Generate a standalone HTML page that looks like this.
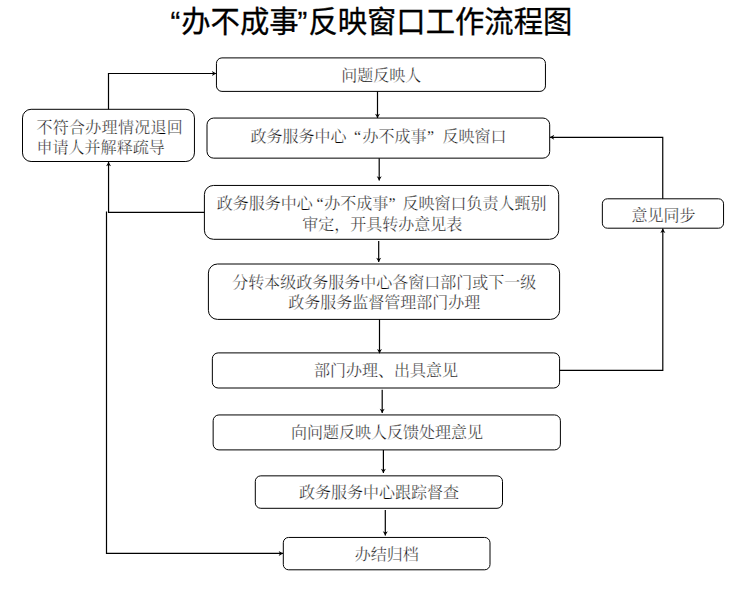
<!DOCTYPE html>
<html><head><meta charset="utf-8"><title>flow</title>
<style>
html,body{margin:0;padding:0;background:#fff;font-family:"Liberation Sans",sans-serif;}
svg{display:block}
</style></head><body>
<svg width="740" height="593" viewBox="0 0 740 593">
<rect x="0" y="0" width="740" height="593" fill="#fff"/>
<g fill="none" stroke="#000" stroke-width="1.0">
<rect x="216.45" y="57.90" width="329.00" height="33.50" rx="5.50" ry="5.50"/>
<rect x="207.00" y="118.05" width="342.70" height="40.10" rx="6.70" ry="6.70"/>
<rect x="204.40" y="185.45" width="354.30" height="53.85" rx="9.10" ry="9.10"/>
<rect x="208.40" y="264.00" width="351.20" height="55.40" rx="9.10" ry="9.10"/>
<rect x="212.35" y="352.90" width="347.25" height="35.10" rx="5.80" ry="5.80"/>
<rect x="213.15" y="414.95" width="347.25" height="34.95" rx="5.80" ry="5.80"/>
<rect x="255.30" y="475.85" width="247.20" height="32.45" rx="5.50" ry="5.50"/>
<rect x="283.30" y="537.45" width="206.70" height="32.35" rx="5.30" ry="5.30"/>
<rect x="22.50" y="109.30" width="171.95" height="52.20" rx="8.60" ry="8.60"/>
<rect x="602.35" y="198.80" width="121.20" height="29.40" rx="5.00" ry="5.00"/>
</g>
<g fill="none" stroke="#000" stroke-width="1.2">
<polyline points="108.50,109.30 108.50,73.50 216.20,73.50"/>
<polyline points="377.50,91.40 377.50,118.00"/>
<polyline points="379.20,158.30 379.20,180.50"/>
<polyline points="378.70,241.10 378.70,262.00"/>
<polyline points="379.50,319.40 379.50,353.30"/>
<polyline points="382.20,389.80 382.20,413.00"/>
<polyline points="383.40,450.00 383.40,473.00"/>
<polyline points="385.30,510.10 385.30,535.50"/>
<polyline points="204.40,212.45 108.55,212.45 108.55,162.00"/>
<polyline points="106.50,211.50 106.50,553.40 283.00,553.40"/>
<polyline points="559.60,370.45 662.80,370.45 662.80,228.60"/>
<polyline points="662.75,198.80 662.75,137.35 549.90,137.35"/>
</g>
<g fill="#000" stroke="none">
<polygon points="216.20,73.50 211.90,76.00 213.10,73.50 211.90,71.00"/>
<polygon points="377.50,118.00 375.00,113.70 377.50,114.90 380.00,113.70"/>
<polygon points="379.20,180.50 376.70,176.20 379.20,177.40 381.70,176.20"/>
<polygon points="378.70,262.00 376.20,257.70 378.70,258.90 381.20,257.70"/>
<polygon points="379.50,353.30 377.00,349.00 379.50,350.20 382.00,349.00"/>
<polygon points="382.20,413.00 379.70,408.70 382.20,409.90 384.70,408.70"/>
<polygon points="383.40,473.00 380.90,468.70 383.40,469.90 385.90,468.70"/>
<polygon points="385.30,535.50 382.80,531.20 385.30,532.40 387.80,531.20"/>
<polygon points="108.55,162.00 111.05,166.30 108.55,165.10 106.05,166.30"/>
<polygon points="283.00,553.40 278.70,555.90 279.90,553.40 278.70,550.90"/>
<polygon points="662.80,228.60 665.30,232.90 662.80,231.70 660.30,232.90"/>
<polygon points="549.90,137.35 554.20,134.85 553.00,137.35 554.20,139.85"/>
</g>
<g fill="#000" stroke="#fff" stroke-width="0.25" font-size="16" font-family="&quot;Liberation Serif&quot;, &quot;Noto Serif CJK SC&quot;, serif">
<text x="341.18" y="80.61">问题反映人</text>
<text y="141.61"><tspan x="250.43">政务服务中心</tspan><tspan x="354">“</tspan><tspan x="362.43">办不成事</tspan><tspan x="427">”</tspan><tspan x="442.43">反映窗口</tspan></text>
<text y="209.11"><tspan x="216.68">政务服务中心</tspan><tspan x="316.5">“</tspan><tspan x="324.18">办不成事</tspan><tspan x="388.5">”</tspan><tspan x="402.43">反映窗口负责人甄别</tspan></text>
<text x="302.18" y="229.61">审定，开具转办意见表</text>
<text x="232.28" y="288.26">分转本级政务服务中心各窗口部门或下一级</text>
<text x="288.28" y="308.26">政务服务监督管理部门办理</text>
<text x="313.93" y="375.76">部门办理、出具意见</text>
<text x="290.93" y="438.36">向问题反映人反馈处理意见</text>
<text x="298.93" y="497.96">政务服务中心跟踪督查</text>
<text x="354.78" y="559.56">办结归档</text>
<text x="36.38" y="132.61" letter-spacing="0.3">不符合办理情况退回</text>
<text x="36.38" y="153.36" letter-spacing="0.05">申请人并解释疏导</text>
<text x="631.58" y="220.61">意见同步</text>
</g>
<g fill="#000" stroke="#000" stroke-width="0.3" font-size="29.33" font-family="&quot;Liberation Sans&quot;, &quot;Noto Sans CJK SC&quot;, sans-serif">
<text y="31.70"><tspan x="170.50">“</tspan><tspan x="181.30">办不成事</tspan><tspan x="297.59">”</tspan><tspan x="308.39">反映窗口工作流程图</tspan></text>
</g>
</svg>
</body></html>
